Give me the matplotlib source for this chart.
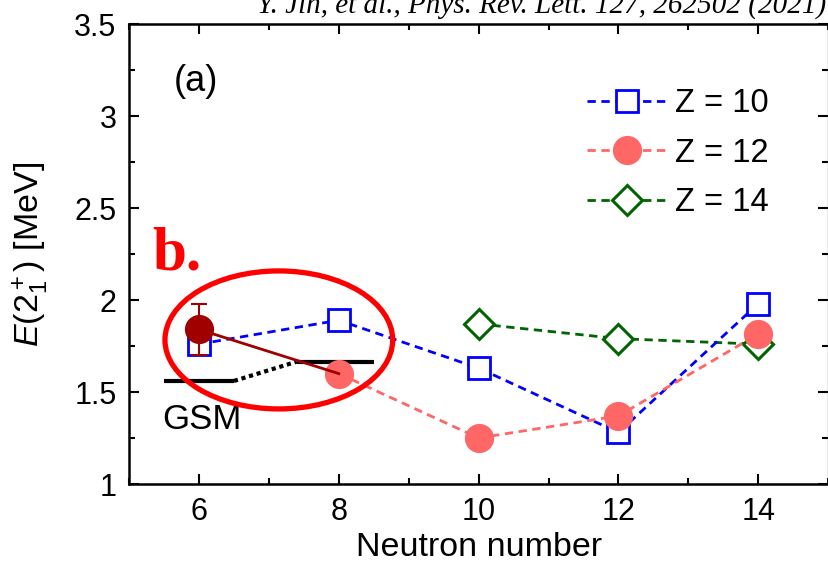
import matplotlib
matplotlib.use("Agg")
import matplotlib.pyplot as plt
from matplotlib.patches import Ellipse
from matplotlib.ticker import MultipleLocator

plt.rcParams['font.family'] = ['Liberation Sans', 'DejaVu Sans']
plt.rcParams['mathtext.fontset'] = 'custom'
plt.rcParams['mathtext.rm'] = 'Liberation Sans'
plt.rcParams['mathtext.it'] = 'Liberation Sans:italic'

# Data
n_z10 = [6, 8, 10, 12, 14]
e_z10 = [1.76, 1.89, 1.63, 1.28, 1.98]
n_z12 = [8, 10, 12, 14]
e_z12 = [1.60, 1.25, 1.37, 1.815]
n_z14 = [10, 12, 14]
e_z14 = [1.87, 1.79, 1.76]
labels = ['Z = 10', 'Z = 12', 'Z = 14']

# New measurement (N=6, Z=12) with error bar
n_new = [6]
e_new = [1.84]
err_lo = [0.14]
err_hi = [0.14]
link_n = [6, 8]
link_e = [1.84, 1.60]

# GSM levels
gsm_left_n = [5.5, 6.5]
gsm_left_e = [1.56, 1.56]
gsm_right_n = [7.4, 8.5]
gsm_right_e = [1.665, 1.665]
gsm_dot_n = [6.5, 7.4]
gsm_dot_e = [1.56, 1.665]

FS = 22

fig = plt.figure(figsize=(8.29, 5.67), dpi=100)
ax = fig.add_axes([129/829, 1-484/567, 1-129/829 - 0.001, (484-24)/567])

dash = (3, 2)
ax.plot(n_z10, e_z10, ls='--', dashes=dash, color='#0000ff', lw=2,
        marker='s', ms=16, mfc='white', mec='#0000ff', mew=2, label=labels[0], zorder=4)
ax.plot(n_z12, e_z12, ls='--', dashes=dash, color='#ff6666', lw=2,
        marker='o', ms=20, mfc='#ff6666', mec='#ff6666', label=labels[1], zorder=5)
ax.plot(n_z14, e_z14, ls='--', dashes=dash, color='#006400', lw=2,
        marker='D', ms=15, mfc='white', mec='#006400', mew=2.2, label=labels[2], zorder=3)

# GSM
ax.plot(gsm_left_n, gsm_left_e, color='black', lw=3, solid_capstyle='butt', zorder=2)
ax.plot(gsm_right_n, gsm_right_e, color='black', lw=3, solid_capstyle='butt', zorder=2)
ax.plot(gsm_dot_n, gsm_dot_e, color='black', lw=3, ls=':', dashes=(1, 0.9), zorder=2)
ax.text(5.47, 1.30, 'GSM', fontsize=25, ha='left', va='baseline')

# new measurement
ax.plot(link_n, link_e, color='#a00000', lw=2, zorder=6)
ax.errorbar(n_new, e_new, yerr=[err_lo, err_hi], fmt='o', ms=20, color='#a00000',
            ecolor='#a00000', elinewidth=1.5, capsize=6, capthick=1.5, zorder=7)

# annotation ellipse and label
ell = Ellipse((7.143, 1.783), 3.257, 0.75, fill=False, edgecolor='#ff0000', lw=3.8, zorder=8)
ax.add_patch(ell)
fig.text(152/829, 1-270/567, 'b.', fontsize=44, fontweight='bold', color='#ff0000',
         family='Liberation Serif', ha='left', va='baseline')

ax.text(5.64, 3.19, '(a)', fontsize=26, ha='left', va='center')

ax.set_xlim(5, 15)
ax.set_ylim(1, 3.5)
ax.xaxis.set_minor_locator(MultipleLocator(1))
ax.yaxis.set_minor_locator(MultipleLocator(0.25))
ax.set_xticks([6, 8, 10, 12, 14])
ax.set_yticks([1, 1.5, 2, 2.5, 3, 3.5])
ax.set_yticklabels(['1', '1.5', '2', '2.5', '3', '3.5'])
ax.tick_params(which='both', direction='in', top=True, right=True, labelsize=FS, width=1.5)
ax.tick_params(which='major', length=7, pad=9)
ax.tick_params(which='minor', length=4)
for s in ax.spines.values():
    s.set_linewidth(1.8)
ax.spines['right'].set_linewidth(1.0)
ax.spines['right'].set_color('#888888')

ax.set_xlabel('Neutron number', fontsize=24.5, labelpad=4)
ax.set_ylabel('$E$(2$_1^+$) [MeV]', fontsize=24.5)
ax.yaxis.set_label_coords(-0.141, 0.5)
ax.yaxis.label.set_va('center')

ax.legend(loc='upper left', bbox_to_anchor=(0.655, 0.86), frameon=False, fontsize=23.5,
          handlelength=2.45, labelspacing=0.56, handletextpad=0.25,
          borderaxespad=0, borderpad=0)

fig.text(826/829, 1-13/567, 'Y. Jin, et al., Phys. Rev. Lett. 127, 262502 (2021)',
         fontsize=21, family='Liberation Serif', style='italic', ha='right', va='baseline')

fig.savefig('out.png', dpi=100)
